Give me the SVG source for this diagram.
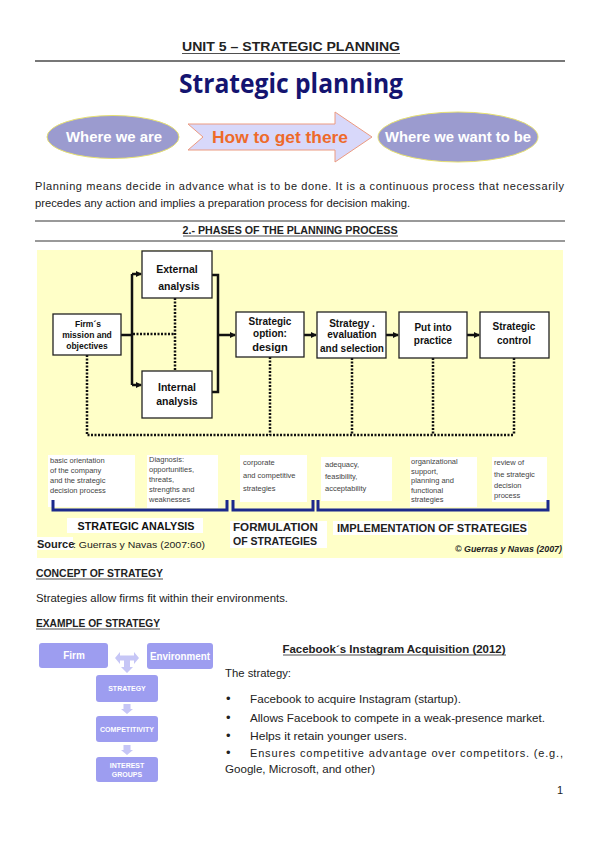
<svg xmlns="http://www.w3.org/2000/svg" width="599" height="848" viewBox="0 0 599 848">
<defs>
<style>
.t{font-family:"Liberation Sans",Arial,sans-serif;fill:#222}
.b{font-weight:bold}
.box{fill:#fff;stroke:#222;stroke-width:1.3}
.bt{font-family:"Liberation Sans",Arial,sans-serif;font-weight:bold;fill:#111;text-anchor:middle}
.st{font-family:"Liberation Sans",Arial,sans-serif;fill:#444;font-size:7.5px}
.thick{fill:none;stroke:#111;stroke-width:2.5}
.dot{fill:none;stroke:#111;stroke-width:2.5;stroke-dasharray:2 1.5}
.brk{fill:none;stroke:#1c2a8c;stroke-width:3}
.wb{fill:#fff}
.pb{fill:#9d9df0}
.pl{fill:#c6c6f6}
.pt{font-family:"Liberation Sans",Arial,sans-serif;fill:#fff;font-weight:bold;text-anchor:middle}
.ul{stroke:#222;stroke-width:0.8}
</style>
<marker id="ah" markerWidth="6" markerHeight="6" refX="5" refY="3" orient="auto" markerUnits="userSpaceOnUse">
<path d="M0,0 L6,3 L0,6 Z" fill="#111"/>
</marker>
</defs>
<rect width="599" height="848" fill="#fff"/>

<!-- header -->
<g id="header">
<text x="291" y="51" class="t b" font-size="12.5" text-anchor="middle" textLength="218" lengthAdjust="spacingAndGlyphs">UNIT 5 – STRATEGIC PLANNING</text>
<line x1="182" y1="53.5" x2="400" y2="53.5" class="ul"/>
<line x1="35" y1="61" x2="565" y2="61" stroke="#777" stroke-width="1.8"/>
<text x="291" y="93" font-family="'Open Sans','Liberation Sans',sans-serif" font-weight="bold" font-size="26" fill="#141470" text-anchor="middle" textLength="224" lengthAdjust="spacingAndGlyphs">Strategic planning</text>
</g>

<g id="where-we-are">
<ellipse cx="113" cy="137" rx="66" ry="21.5" fill="#9b9bcf" stroke="#e6e070" stroke-width="1"/>
<text x="114" y="142" class="pt" font-size="14" textLength="96" lengthAdjust="spacingAndGlyphs">Where we are</text>
</g>
<g id="how-to-get-there">
<path d="M188,124 L335,124 L335,112 L372,137 L335,162 L335,150 L188,150 L203,137 Z" fill="#d8d8fa" stroke="#ec9a80" stroke-width="1"/>
<text x="280" y="143" font-family="'Liberation Sans',Arial,sans-serif" font-weight="bold" font-size="17" fill="#ee6a2a" text-anchor="middle" textLength="136" lengthAdjust="spacingAndGlyphs">How to get there</text>
</g>
<g id="where-we-want-to-be">
<ellipse cx="458" cy="137" rx="80" ry="25" fill="#9b9bcf" stroke="#e6e070" stroke-width="1"/>
<text x="458" y="142" class="pt" font-size="14" textLength="146" lengthAdjust="spacingAndGlyphs">Where we want to be</text>
</g>

<g id="intro">
<text x="35" y="190" class="t" font-size="11" textLength="529" lengthAdjust="spacing">Planning means decide in advance what is to be done. It is a continuous process that necessarily</text>
<text x="35" y="207" class="t" font-size="11" textLength="375" lengthAdjust="spacingAndGlyphs">precedes any action and implies a preparation process for decision making.</text>
<line x1="35" y1="221" x2="565" y2="221" stroke="#777" stroke-width="1.5"/>
<text x="290" y="234" class="t b" font-size="10.5" text-anchor="middle" textLength="215" lengthAdjust="spacingAndGlyphs">2.- PHASES OF THE PLANNING PROCESS</text>
<line x1="183" y1="236" x2="398" y2="236" class="ul"/>
<line x1="35" y1="241" x2="565" y2="241" stroke="#777" stroke-width="1.5"/>
</g>

<!-- process figure -->
<rect x="37" y="250" width="526" height="308" fill="#ffffc8"/>

<g id="connectors">
<path class="thick" d="M121,335 H132 M132,274 V385"/>
<path class="thick" d="M132,274 H141" marker-end="url(#ah)"/>
<path class="thick" d="M132,385 H141" marker-end="url(#ah)"/>
<path class="thick" d="M212,275 H218 V392 H212"/>
<path class="thick" d="M218,335 H235" marker-end="url(#ah)"/>
<path class="thick" d="M304,335 H316" marker-end="url(#ah)"/>
<path class="thick" d="M386,335 H398" marker-end="url(#ah)"/>
<path class="thick" d="M467,335 H479" marker-end="url(#ah)"/>
<path class="dot" d="M133,334 H175 M175,298 V371"/>
<path class="dot" d="M87,355 V435 H514 M270,357 V435 M352,358 V435 M433,358 V435 M514,358 V435"/>
</g>

<g id="external-analysis">
<rect x="142" y="251" width="70" height="47" class="box"/>
<text x="177" y="273" class="bt" font-size="10.5">External</text>
<text x="179" y="290" class="bt" font-size="10.5">analysis</text>
</g>
<g id="firm-mission">
<rect x="53" y="314" width="68" height="41" class="box"/>
<text x="88" y="327" class="bt" font-size="8.5">Firm´s</text>
<text x="87" y="338" class="bt" font-size="8.5">mission and</text>
<text x="87" y="349" class="bt" font-size="8.5">objectives</text>
</g>
<g id="internal-analysis">
<rect x="142" y="371" width="70" height="47" class="box"/>
<text x="177" y="391" class="bt" font-size="10.5">Internal</text>
<text x="177" y="405" class="bt" font-size="10.5">analysis</text>
</g>
<g id="strategic-option">
<rect x="236" y="312" width="68" height="45" class="box"/>
<text x="270" y="325" class="bt" font-size="10">Strategic</text>
<text x="270" y="337" class="bt" font-size="10">option:</text>
<text x="270" y="351" class="bt" font-size="11">design</text>
</g>
<g id="strategy-evaluation">
<rect x="317" y="312" width="69" height="46" class="box"/>
<text x="352" y="327" class="bt" font-size="10">Strategy .</text>
<text x="352" y="338" class="bt" font-size="10">evaluation</text>
<text x="352" y="352" class="bt" font-size="10">and selection</text>
</g>
<g id="put-into-practice">
<rect x="399" y="312" width="68" height="46" class="box"/>
<text x="433" y="331" class="bt" font-size="10">Put into</text>
<text x="433" y="344" class="bt" font-size="10">practice</text>
</g>
<g id="strategic-control">
<rect x="480" y="312" width="69" height="46" class="box"/>
<text x="514" y="330" class="bt" font-size="10">Strategic</text>
<text x="514" y="344" class="bt" font-size="10">control</text>
</g>

<g id="notes">
<rect x="48" y="455" width="87" height="52" class="wb"/>
<text class="st" x="50"><tspan x="50" y="463">basic orientation</tspan><tspan x="50" y="473">of the company</tspan><tspan x="50" y="483">and the strategic</tspan><tspan x="50" y="493">decision process</tspan></text>
<rect x="147" y="455" width="71" height="53" class="wb"/>
<text class="st" x="149"><tspan x="149" y="462">Diagnosis:</tspan><tspan x="149" y="472">opportunities,</tspan><tspan x="149" y="482">threats,</tspan><tspan x="149" y="492">strengths and</tspan><tspan x="149" y="502">weaknesses</tspan></text>
<rect x="240" y="455" width="67" height="47" class="wb"/>
<text class="st" x="243"><tspan x="243" y="465">corporate</tspan><tspan x="243" y="478">and competitive</tspan><tspan x="243" y="491">strategies</tspan></text>
<rect x="321" y="457" width="71" height="44" class="wb"/>
<text class="st" x="325"><tspan x="325" y="467">adequacy,</tspan><tspan x="325" y="479">feasibility,</tspan><tspan x="325" y="491">acceptability</tspan></text>
<rect x="410" y="457" width="67" height="50" class="wb"/>
<text class="st" x="411" font-size="7"><tspan x="411" y="464">organizational</tspan><tspan x="411" y="473.5">support,</tspan><tspan x="411" y="483">planning and</tspan><tspan x="411" y="492.5">functional</tspan><tspan x="411" y="502">strategies</tspan></text>
<rect x="492" y="457" width="55" height="45" class="wb"/>
<text class="st" x="494"><tspan x="494" y="465">review of</tspan><tspan x="494" y="477">the strategic</tspan><tspan x="494" y="488">decision</tspan><tspan x="494" y="498">process</tspan></text>
</g>

<g id="brackets">
<path class="brk" d="M53,500 V510 H227 V500"/>
<path class="brk" d="M233,500 V510 H313 V500"/>
<path class="brk" d="M318,500 V510 H548 V500"/>
</g>

<g id="phase-labels">
<rect x="67" y="518" width="136" height="15" class="wb"/>
<text x="136" y="530" class="bt" font-size="11" textLength="117" lengthAdjust="spacingAndGlyphs">STRATEGIC ANALYSIS</text>
<rect x="230" y="521" width="97" height="27" class="wb"/>
<text x="233" y="531" class="t b" font-size="11" fill="#111" textLength="85" lengthAdjust="spacingAndGlyphs">FORMULATION</text>
<text x="233" y="545" class="t b" font-size="11" fill="#111" textLength="84" lengthAdjust="spacingAndGlyphs">OF STRATEGIES</text>
<rect x="333" y="521" width="195" height="14" class="wb"/>
<text x="337" y="532" class="t b" font-size="11" fill="#111" textLength="190" lengthAdjust="spacingAndGlyphs">IMPLEMENTATION OF STRATEGIES</text>
<rect x="35" y="537" width="38" height="13" class="wb"/>
<text x="37" y="548" class="t b" font-size="11" fill="#111">Source</text>
<text x="73" y="548" class="t" font-size="9.5" fill="#111" textLength="132" lengthAdjust="spacingAndGlyphs">: Guerras y Navas (2007:60)</text>
<text x="562" y="552" class="t b" font-size="8.5" font-style="italic" fill="#c03030" text-anchor="end" textLength="107" lengthAdjust="spacingAndGlyphs">© Guerras y Navas (2007)</text>
</g>

<!-- concept section -->
<g id="concept">
<text x="36" y="577" class="t b" font-size="11" textLength="127" lengthAdjust="spacingAndGlyphs">CONCEPT OF STRATEGY</text>
<line x1="36" y1="579" x2="163" y2="579" class="ul"/>
<text x="36" y="602" class="t" font-size="11" textLength="252" lengthAdjust="spacingAndGlyphs">Strategies allow firms fit within their environments.</text>
<text x="36" y="627" class="t b" font-size="11" textLength="124" lengthAdjust="spacingAndGlyphs">EXAMPLE OF STRATEGY</text>
<line x1="36" y1="629" x2="160" y2="629" class="ul"/>
</g>

<g id="firm">
<rect x="39" y="643" width="69" height="25" rx="3" class="pb"/>
<text x="74" y="659" class="pt" font-size="10">Firm</text>
</g>
<g id="environment">
<rect x="147" y="643" width="66" height="26" rx="3" class="pb"/>
<text x="180" y="660" class="pt" font-size="10" textLength="60" lengthAdjust="spacingAndGlyphs">Environment</text>
</g>
<g id="small-connectors">
<path class="pl" d="M115,658 L120,652 L120,655.5 L134,655.5 L134,652 L139,658 L134,664 L134,660.5 L130,660.5 L130,667 L133,667 L127,673 L121,667 L124,667 L124,660.5 L120,660.5 L120,664 Z"/>
<path class="pl" d="M123.5,704 H130.5 V709 H133 L127,714 L121,709 H123.5 Z"/>
<path class="pl" d="M123.5,745 H130.5 V750 H133 L127,755 L121,750 H123.5 Z"/>
</g>
<g id="strategy-box">
<rect x="96" y="675" width="62" height="27" rx="3" class="pb"/>
<text x="127" y="691" class="pt" font-size="7">STRATEGY</text>
</g>
<g id="competitivity-box">
<rect x="96" y="716" width="62" height="26" rx="3" class="pb"/>
<text x="127" y="731.5" class="pt" font-size="7" textLength="54" lengthAdjust="spacingAndGlyphs">COMPETITIVITY</text>
</g>
<g id="interest-groups-box">
<rect x="96" y="757" width="62" height="25" rx="3" class="pb"/>
<text x="127" y="768" class="pt" font-size="7">INTEREST</text>
<text x="127" y="777" class="pt" font-size="7">GROUPS</text>
</g>

<g id="facebook-example">
<text x="394" y="653" class="t b" font-size="11" text-anchor="middle" textLength="223" lengthAdjust="spacingAndGlyphs">Facebook´s Instagram Acquisition (2012)</text>
<line x1="283" y1="655" x2="506" y2="655" class="ul"/>
<text x="225" y="677" class="t" font-size="11" textLength="66" lengthAdjust="spacingAndGlyphs">The strategy:</text>
<text x="226" y="703" class="t" font-size="13">•</text>
<text x="250" y="703" class="t" font-size="11" textLength="211" lengthAdjust="spacingAndGlyphs">Facebook to acquire Instagram (startup).</text>
<text x="226" y="722" class="t" font-size="13">•</text>
<text x="250" y="722" class="t" font-size="11" textLength="295" lengthAdjust="spacingAndGlyphs">Allows Facebook to compete in a weak-presence market.</text>
<text x="226" y="740" class="t" font-size="13">•</text>
<text x="250" y="740" class="t" font-size="11" textLength="157" lengthAdjust="spacingAndGlyphs">Helps it retain younger users.</text>
<text x="226" y="757" class="t" font-size="13">•</text>
<text x="250" y="757" class="t" font-size="11" textLength="313" lengthAdjust="spacing">Ensures competitive advantage over competitors. (e.g.,</text>
<text x="225" y="773" class="t" font-size="11" textLength="150" lengthAdjust="spacingAndGlyphs">Google, Microsoft, and other)</text>
<text x="563" y="794" class="t" font-size="11" text-anchor="end">1</text>
</g>
</svg>
